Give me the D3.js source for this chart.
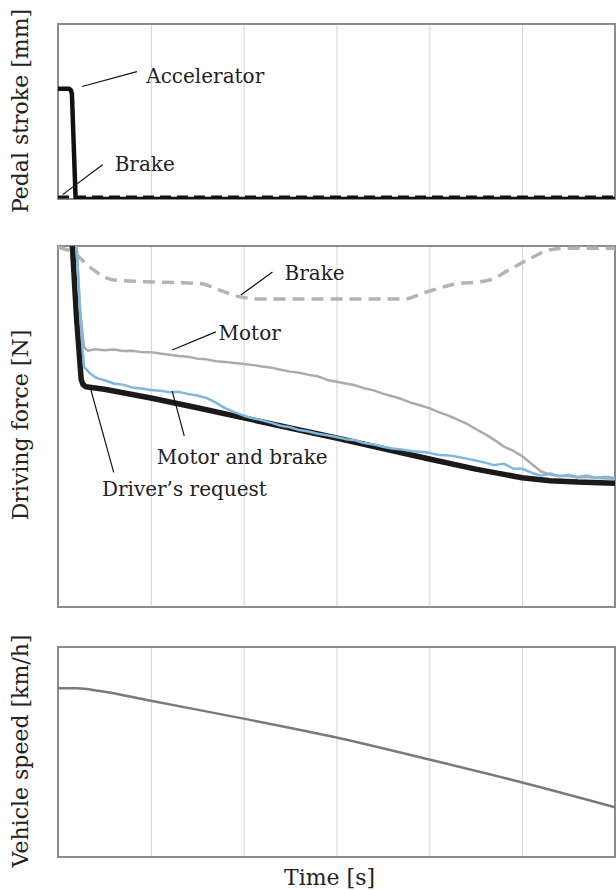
<!DOCTYPE html>
<html>
<head>
<meta charset="utf-8">
<script src="https://cdn.jsdelivr.net/npm/d3@7"></script>
<style>
  body { margin: 0; background: #fff; }
  text { font-family: "DejaVu Serif", serif; fill: #222; }
</style>
</head>
<body>
<svg id="chart" width="616" height="890"></svg>
<script>
// time axis, gridlines every second (no tick labels in the figure)
var timeDomain = [0, 6];
var gridTicks = [1, 2, 3, 4, 5];

// pedal stroke panel
var accelStroke = [[0, 63], [0.12, 63], [0.14, 62], [0.15, 60], [0.19, 0], [6, 0]];
var brakeStroke = [[0, 1.2], [6, 1.2]];

// driving force panel
var driverRequest = [[0.155, 100], [0.2, 80], [0.25, 63], [0.27, 61.6], [0.3, 61.0], [0.5, 60.3],
  [1.0, 57.9], [1.5, 55.2], [2.0, 52.4], [2.5, 49.6], [3.0, 46.8], [3.5, 43.9], [4.0, 41.0],
  [4.5, 38.2], [5.0, 35.8], [5.3, 35.0], [5.6, 34.6], [6.0, 34.3]];
var motorAndBrake = [[0.2, 100], [0.24, 80], [0.28, 66.5], [0.35, 64.6], [0.42, 63.4], [0.5, 62.8],
  [0.6, 61.9], [0.7, 61.6], [0.8, 60.8], [0.9, 60.5], [1.0, 60.1], [1.1, 59.9], [1.2, 59.5],
  [1.3, 59.6], [1.4, 59.0], [1.5, 58.6], [1.6, 57.9], [1.7, 56.6], [1.8, 55.1], [1.9, 54.0],
  [2.0, 53.0], [2.1, 52.3], [2.2, 51.7], [2.3, 51.0], [2.4, 50.2], [2.5, 49.8], [2.6, 49.0],
  [2.7, 48.6], [2.8, 48.0], [2.9, 47.6], [3.0, 47.1], [3.1, 46.5], [3.2, 46.2], [3.3, 45.4],
  [3.4, 45.0], [3.5, 44.4], [3.6, 43.9], [3.7, 43.6], [3.8, 43.2], [3.9, 43.0], [4.0, 42.7],
  [4.1, 42.1], [4.2, 42.0], [4.3, 41.6], [4.4, 41.1], [4.5, 40.6], [4.6, 40.0], [4.7, 39.3],
  [4.8, 39.7], [4.9, 38.4], [5.0, 38.3], [5.1, 37.2], [5.2, 36.4], [5.3, 37.0], [5.4, 36.2],
  [5.5, 36.6], [5.6, 36.0], [5.7, 36.4], [5.8, 35.8], [5.9, 36.1], [6.0, 35.7]];
var motorForce = [[0.2, 100], [0.24, 82], [0.28, 72], [0.32, 71.0], [0.4, 71.4], [0.5, 71.1],
  [0.6, 71.3], [0.7, 70.9], [0.8, 71.0], [0.9, 70.6], [1.0, 70.6], [1.1, 70.2], [1.2, 69.9],
  [1.3, 69.5], [1.4, 69.3], [1.5, 68.8], [1.6, 68.6], [1.7, 68.1], [1.8, 67.9], [1.9, 67.6],
  [2.0, 67.3], [2.1, 67.0], [2.2, 66.6], [2.3, 66.3], [2.4, 65.7], [2.5, 65.2], [2.6, 64.9],
  [2.7, 64.3], [2.8, 63.9], [2.9, 62.9], [3.0, 62.4], [3.1, 61.9], [3.2, 61.4], [3.3, 60.6],
  [3.4, 60.0], [3.5, 59.1], [3.6, 58.4], [3.7, 57.6], [3.8, 56.6], [3.9, 55.9], [4.0, 55.1],
  [4.1, 54.0], [4.2, 53.1], [4.3, 52.0], [4.4, 50.8], [4.5, 49.3], [4.6, 47.9], [4.7, 46.3],
  [4.8, 44.5], [4.9, 43.3], [5.0, 41.8], [5.1, 39.7], [5.2, 37.6], [5.3, 36.6], [5.4, 36.3],
  [5.5, 36.3], [5.6, 35.9], [5.7, 36.0], [5.8, 35.7], [5.9, 35.6], [6.0, 35.5]];
var brakeForce = [[0, 99.7], [0.18, 97.9], [0.34, 94.2], [0.6, 90.6], [1.06, 90.0], [1.53, 89.6],
  [1.74, 87.8], [1.96, 85.9], [2.2, 85.3], [2.97, 85.3], [3.73, 85.3], [3.94, 87.0], [4.23, 89.2],
  [4.65, 90.6], [4.86, 93.4], [5.12, 97.0], [5.29, 98.9], [5.49, 99.4], [6, 99.4]];

// vehicle speed panel
var vehicleSpeed = [[0, 80.3], [0.2, 80.3], [0.45, 79.1], [1, 74.4], [2, 65.9], [3, 56.9],
  [4, 46.4], [5, 35.5], [6, 23.7]];

// annotation labels: [text, leader from, leader to, text anchor point] in data units
var pedalNotes = [
  ['Accelerator', [0.26, 64.3], [0.85, 72.8], [0.95, 66.3]],
  ['Brake', [0.05, 2.5], [0.48, 19.6], [0.61, 16]]
];
var forceNotes = [
  ['Brake', [1.97, 86.4], [2.31, 92.8], [2.44, 90.6]],
  ['Motor', [1.23, 71.2], [1.70, 76.2], [1.73, 74.0]],
  ['Motor and brake', [1.23, 59.8], [1.36, 47.4], [1.065, 39.6]],
  ['Driver\u2019s request', [0.355, 60.1], [0.60, 37.3], [0.473, 30.7]]
];

(function() {
  'use strict';

  var svg = d3.select('#chart');
  var left = 58, right = 615;

  var x = d3.scaleLinear().domain(timeDomain).range([left, right]);

  function panel(top, bottom, yLabel, labelY) {
    /**
     * Frame, gridlines and y label for one stacked panel; returns its y scale.
     */
    var y = d3.scaleLinear().domain([0, 100]).range([bottom, top]);
    var g = svg.append('g');
    var clipId = 'clip' + top;

    g.append('clipPath').attr('id', clipId).append('rect')
      .attr('x', left).attr('y', top).attr('width', right - left).attr('height', bottom - top);

    var grid = g.append('g')
      .attr('transform', 'translate(0,' + bottom + ')')
      .call(d3.axisBottom(x).tickValues(gridTicks).tickSize(-(bottom - top)).tickFormat(''));
    grid.select('.domain').remove();
    grid.selectAll('line').attr('stroke', '#d2d2d2').attr('stroke-width', 1);

    g.append('rect')
      .attr('x', left).attr('y', top).attr('width', right - left).attr('height', bottom - top)
      .attr('fill', 'none').attr('stroke', '#8c8c8c').attr('stroke-width', 2);

    svg.append('text')
      .attr('transform', 'translate(28,' + labelY + ') rotate(-90)')
      .attr('text-anchor', 'middle')
      .style('font-size', '22px')
      .text(yLabel);

    var lines = svg.append('g').attr('clip-path', 'url(#' + clipId + ')');
    return {y: y, lines: lines};
  }

  function drawLine(p, data, stroke, width, dash, curve) {
    var line = d3.line()
      .x(function(d) { return x(d[0]); })
      .y(function(d) { return p.y(d[1]); })
      .curve(curve || d3.curveLinear);
    p.lines.append('path')
      .datum(data)
      .attr('d', line)
      .attr('fill', 'none')
      .attr('stroke', stroke)
      .attr('stroke-width', width)
      .attr('stroke-linejoin', 'round')
      .attr('stroke-dasharray', dash || null);
  }

  function annotate(p, notes) {
    notes.forEach(function(n) {
      svg.append('line')
        .attr('x1', x(n[1][0])).attr('y1', p.y(n[1][1]))
        .attr('x2', x(n[2][0])).attr('y2', p.y(n[2][1]))
        .attr('stroke', '#111').attr('stroke-width', 1.2);
      svg.append('text')
        .attr('x', x(n[3][0])).attr('y', p.y(n[3][1]))
        .style('font-size', '20px')
        .text(n[0]);
    });
  }

  var pedal = panel(24, 199, 'Pedal stroke [mm]', 111);
  drawLine(pedal, accelStroke, '#111', 4.5);
  drawLine(pedal, brakeStroke, '#111', 3, '11,6');
  annotate(pedal, pedalNotes);

  var force = panel(246, 607, 'Driving force [N]', 425);
  drawLine(force, brakeForce, '#b3b3b3', 3.5, '12,7', d3.curveMonotoneX);
  drawLine(force, driverRequest, '#1a1a1a', 5.5);
  drawLine(force, motorForce, '#ababab', 2.5);
  drawLine(force, motorAndBrake, '#7fb8dc', 2.5);
  annotate(force, forceNotes);

  var speed = panel(647, 857, 'Vehicle speed [km/h]', 751);
  drawLine(speed, vehicleSpeed, '#7a7a7a', 2.5, null, d3.curveMonotoneX);

  svg.append('text')
    .attr('x', x(3) - 7).attr('y', 885)
    .attr('text-anchor', 'middle')
    .style('font-size', '22px')
    .text('Time [s]');
})();
</script>
</body>
</html>
